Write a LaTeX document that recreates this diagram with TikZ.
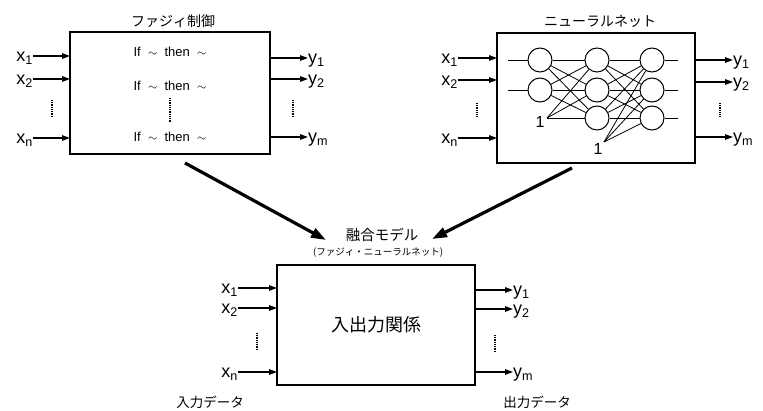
\documentclass[tikz,border=0pt]{standalone}
\usepackage{fontspec}
\setmainfont{Liberation Sans}
\newfontfamily\jp{Noto Sans CJK JP}
\usetikzlibrary{arrows.meta}
\begin{document}
\begin{tikzpicture}[x=1pt,y=-1pt,
  box/.style={draw, line width=1.3pt, outer sep=0pt, inner sep=0pt},
  lbl/.style={font=\fontsize{18}{18}\selectfont, inner sep=0pt},
  rule/.style={font=\fontsize{13}{13}\selectfont, inner sep=0pt},
  ttl/.style={font=\jp\fontsize{14}{14}\selectfont, inner sep=0pt},
  io/.style={-{Triangle[length=8pt,width=5.5pt]}, line width=1.4pt},
  big/.style={-{Triangle[length=15pt,width=10pt]}, line width=3.2pt},
  vd/.style={line width=1.8pt, dash pattern=on 0.9pt off 0.9pt},
  nn/.style={circle, draw, line width=1pt, minimum size=24pt, inner sep=0pt},
  wire/.style={line width=0.8pt},
  one/.style={font=\fontsize{16}{16}\selectfont, inner sep=0pt}]
\useasboundingbox (0,0) rectangle (763,411);
\fill[white] (0,0) rectangle (763,411);

% ---------------- Fuzzy control box ----------------
\node[box, minimum width=200pt, minimum height=122pt] (F) at (170,93) {};
\node[ttl] (Ft) at (173,21) {ファジィ制御};
\node[rule] (r1) at (170,52) {If\ \ $\sim$\ \ then\ \ $\sim$};
\node[rule] (r2) at (170,86) {If\ \ $\sim$\ \ then\ \ $\sim$};
\node[rule] (r3) at (170,137) {If\ \ $\sim$\ \ then\ \ $\sim$};
\draw[vd] (170,98) -- (170,122);

\node[lbl, anchor=base east] (fx1) at (33,62) {x\textsubscript{1}};
\node[lbl, anchor=base east] (fx2) at (33,85) {x\textsubscript{2}};
\node[lbl, anchor=base east] (fxn) at (33,144) {x\textsubscript{n}};
\coordinate (Fi1) at (70,56);
\coordinate (Fi2) at (70,79);
\coordinate (Fin) at (70,138);
\draw[io] (fx1.east |- Fi1) -- (Fi1);
\draw[io] (fx2.east |- Fi2) -- (Fi2);
\draw[io] (fxn.east |- Fin) -- (Fin);
\draw[vd] (52,100) -- (52,117);

\node[lbl, anchor=base west] (fy1) at (308,64) {y\textsubscript{1}};
\node[lbl, anchor=base west] (fy2) at (308,85) {y\textsubscript{2}};
\node[lbl, anchor=base west] (fym) at (308,143) {y\textsubscript{m}};
\coordinate (Fo1) at (270,58);
\coordinate (Fo2) at (270,79);
\coordinate (Fom) at (270,137);
\draw[io] (Fo1) -- (fy1.west |- Fo1);
\draw[io] (Fo2) -- (fy2.west |- Fo2);
\draw[io] (Fom) -- (fym.west |- Fom);
\draw[vd] (293,100) -- (293,117);

% ---------------- Neural net box ----------------
\node[box, minimum width=198pt, minimum height=130pt] (N) at (596,98) {};
\node[ttl] (Nt) at (600,21) {ニューラルネット};

\node[nn] (L1a) at (540,60) {};
\node[nn] (L1b) at (540,90) {};
\node[nn] (L2a) at (597,60) {};
\node[nn] (L2b) at (597,90) {};
\node[nn] (L2c) at (597,118) {};
\node[nn] (L3a) at (652,60) {};
\node[nn] (L3b) at (652,90) {};
\node[nn] (L3c) at (652,118) {};
\node[one] (b1) at (540,122) {1};
\node[one] (b2) at (598,149) {1};
\coordinate (b1p) at (547,118);
\coordinate (b2p) at (604,142);
\coordinate (ni1) at (508,60);
\coordinate (ni2) at (508,90);
\coordinate (no1) at (678,60);
\coordinate (no2) at (678,90);
\coordinate (no3) at (678,118);
\draw[wire] (ni1) -- (L1a);
\draw[wire] (ni2) -- (L1b);
\foreach \a in {L1a,L1b,b1p}{\foreach \b in {L2a,L2b,L2c}{\draw[wire] (\a) -- (\b);}}
\foreach \a in {L2a,L2b,L2c,b2p}{\foreach \b in {L3a,L3b,L3c}{\draw[wire] (\a) -- (\b);}}
\draw[wire] (L3a) -- (no1);
\draw[wire] (L3b) -- (no2);
\draw[wire] (L3c) -- (no3);

\node[lbl, anchor=base east] (nx1) at (458,64) {x\textsubscript{1}};
\node[lbl, anchor=base east] (nx2) at (458,86) {x\textsubscript{2}};
\node[lbl, anchor=base east] (nxn) at (458,144) {x\textsubscript{n}};
\coordinate (Ni1) at (497,58);
\coordinate (Ni2) at (497,80);
\coordinate (Nin) at (497,138);
\draw[io] (nx1.east |- Ni1) -- (Ni1);
\draw[io] (nx2.east |- Ni2) -- (Ni2);
\draw[io] (nxn.east |- Nin) -- (Nin);
\draw[vd] (477,103) -- (477,117);

\node[lbl, anchor=base west] (ny1) at (733,66) {y\textsubscript{1}};
\node[lbl, anchor=base west] (ny2) at (733,88) {y\textsubscript{2}};
\node[lbl, anchor=base west] (nym) at (733,143) {y\textsubscript{m}};
\coordinate (No1) at (695,60);
\coordinate (No2) at (695,82);
\coordinate (Nom) at (695,137);
\draw[io] (No1) -- (ny1.west |- No1);
\draw[io] (No2) -- (ny2.west |- No2);
\draw[io] (Nom) -- (nym.west |- Nom);
\draw[vd] (720,103) -- (720,117);

% ---------------- Fusion model box ----------------
\node[box, minimum width=198pt, minimum height=120pt, font=\jp\fontsize{18}{18}\selectfont] (M) at (376,325) {入出力関係};
\node[ttl, font=\jp\fontsize{14.5}{14.5}\selectfont] (Mt) at (382,235) {融合モデル};
\node[ttl, font=\jp\fontsize{9.5}{9.5}\selectfont] (Ms) at (378,253) {(ファジィ・ニューラルネット)};

\node[lbl, anchor=base east] (mx1) at (238,294) {x\textsubscript{1}};
\node[lbl, anchor=base east] (mx2) at (238,314) {x\textsubscript{2}};
\node[lbl, anchor=base east] (mxn) at (238,378) {x\textsubscript{n}};
\coordinate (Mi1) at (277,288);
\coordinate (Mi2) at (277,308);
\coordinate (Min) at (277,372);
\draw[io] (mx1.east |- Mi1) -- (Mi1);
\draw[io] (mx2.east |- Mi2) -- (Mi2);
\draw[io] (mxn.east |- Min) -- (Min);
\draw[vd] (257,333) -- (257,350);

\node[lbl, anchor=base west] (my1) at (513,296) {y\textsubscript{1}};
\node[lbl, anchor=base west] (my2) at (513,315) {y\textsubscript{2}};
\node[lbl, anchor=base west] (mym) at (513,378) {y\textsubscript{m}};
\coordinate (Mo1) at (475,290);
\coordinate (Mo2) at (475,309);
\coordinate (Mom) at (475,372);
\draw[io] (Mo1) -- (my1.west |- Mo1);
\draw[io] (Mo2) -- (my2.west |- Mo2);
\draw[io] (Mom) -- (mym.west |- Mom);
\draw[vd] (495,335) -- (495,352);

\node[ttl, font=\jp\fontsize{13.5}{13.5}\selectfont] (inD) at (210,402) {入力データ};
\node[ttl, font=\jp\fontsize{13.5}{13.5}\selectfont] (outD) at (537,402) {出力データ};

% ---------------- big arrows ----------------
\coordinate (A1s) at (185,163);
\coordinate (A1e) at (326,240);
\coordinate (A2s) at (572,168);
\coordinate (A2e) at (432,239);
\draw[big] (A1s) -- (A1e);
\draw[big] (A2s) -- (A2e);
\end{tikzpicture}
\end{document}
